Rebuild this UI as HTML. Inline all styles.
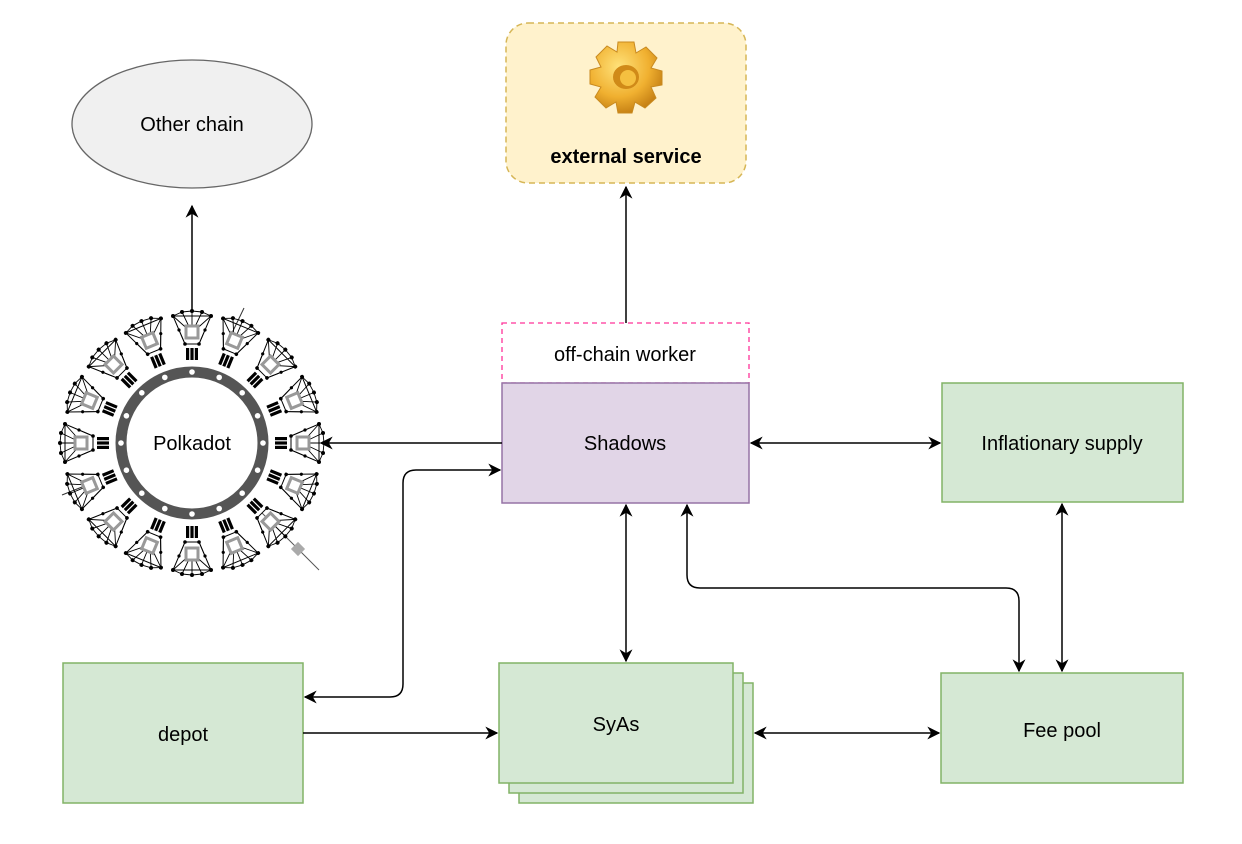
<!DOCTYPE html>
<html><head><meta charset="utf-8"><style>
html,body{margin:0;padding:0;background:#fff;}
svg{display:block;}
text{font-family:"Liberation Sans",Arial,sans-serif;font-size:20px;fill:#000;}
</style></head><body>
<svg width="1242" height="844" viewBox="0 0 1242 844" xmlns="http://www.w3.org/2000/svg">
<defs>
<marker id="a" viewBox="0 0 10 10" refX="9" refY="5" markerWidth="13" markerHeight="13" markerUnits="userSpaceOnUse" orient="auto-start-reverse">
<path d="M0,0 L10,5 L0,10 L3,5 z" fill="#000"/>
</marker>
<radialGradient id="g" cx="40%" cy="35%" r="70%">
<stop offset="0" stop-color="#ffe27a"/><stop offset="0.6" stop-color="#f0b030"/><stop offset="1" stop-color="#c07a10"/>
</radialGradient>
<g id="nd">
<rect x="-6" y="-95" width="3.2" height="12" fill="#000"/>
<rect x="-1.6" y="-95" width="3.2" height="12" fill="#000"/>
<rect x="2.8" y="-95" width="3.2" height="12" fill="#000"/>
<path d="M-7,-99 L-19,-127 L19,-127 L7,-99 z" fill="none" stroke="#000" stroke-width="1"/>
<path d="M0,-110 L-19,-127 M0,-110 L-10,-131 M0,-110 L0,-132 M0,-110 L10,-131 M0,-110 L19,-127 M-19,-127 L-10,-131 L0,-132 L10,-131 L19,-127 M-7,-99 L-13,-113 M7,-99 L13,-113" fill="none" stroke="#000" stroke-width="0.9"/>
<circle cx="-19" cy="-127" r="2"/><circle cx="-10" cy="-131" r="2"/><circle cx="0" cy="-132" r="2"/><circle cx="10" cy="-131" r="2"/><circle cx="19" cy="-127" r="2"/><circle cx="-7" cy="-99" r="1.8"/><circle cx="7" cy="-99" r="1.8"/><circle cx="-13" cy="-113" r="1.6"/><circle cx="13" cy="-113" r="1.6"/>
<rect x="-6" y="-117" width="12" height="12" fill="#fff" stroke="#999" stroke-width="3"/>
</g>
</defs>

<!-- Other chain -->
<ellipse cx="192" cy="124" rx="120" ry="64" fill="#f0f0f0" stroke="#666" stroke-width="1.3"/>
<text x="192" y="131" text-anchor="middle">Other chain</text>
<line x1="192" y1="310" x2="192" y2="206" stroke="#000" stroke-width="1.5" marker-end="url(#a)"/>

<!-- Polkadot -->
<g transform="translate(192,443)">
<line x1="40" y1="-110" x2="52" y2="-135" stroke="#333" stroke-width="1"/>
<line x1="-100" y1="40" x2="-130" y2="52" stroke="#333" stroke-width="1"/>
<line x1="70" y1="70" x2="127" y2="127" stroke="#555" stroke-width="1"/>
<rect x="101" y="101" width="10" height="10" fill="#aaa" transform="rotate(45 106 106)"/>
<use href="#nd"/><use href="#nd" transform="rotate(22.5)"/><use href="#nd" transform="rotate(45)"/><use href="#nd" transform="rotate(67.5)"/>
<use href="#nd" transform="rotate(90)"/><use href="#nd" transform="rotate(112.5)"/><use href="#nd" transform="rotate(135)"/><use href="#nd" transform="rotate(157.5)"/>
<use href="#nd" transform="rotate(180)"/><use href="#nd" transform="rotate(202.5)"/><use href="#nd" transform="rotate(225)"/><use href="#nd" transform="rotate(247.5)"/>
<use href="#nd" transform="rotate(270)"/><use href="#nd" transform="rotate(292.5)"/><use href="#nd" transform="rotate(315)"/><use href="#nd" transform="rotate(337.5)"/>
<circle r="71" fill="#fff" stroke="#555" stroke-width="11"/>
<g fill="#fff">
<circle cx="0" cy="-71" r="2.8"/><circle cx="0" cy="71" r="2.8"/><circle cx="71" cy="0" r="2.8"/><circle cx="-71" cy="0" r="2.8"/>
<circle cx="27.2" cy="-65.6" r="2.8"/><circle cx="-27.2" cy="-65.6" r="2.8"/><circle cx="27.2" cy="65.6" r="2.8"/><circle cx="-27.2" cy="65.6" r="2.8"/>
<circle cx="65.6" cy="-27.2" r="2.8"/><circle cx="-65.6" cy="-27.2" r="2.8"/><circle cx="65.6" cy="27.2" r="2.8"/><circle cx="-65.6" cy="27.2" r="2.8"/>
<circle cx="50.2" cy="-50.2" r="2.8"/><circle cx="-50.2" cy="-50.2" r="2.8"/><circle cx="50.2" cy="50.2" r="2.8"/><circle cx="-50.2" cy="50.2" r="2.8"/>
</g>
<text x="0" y="7" text-anchor="middle">Polkadot</text>
</g>

<!-- External service -->
<rect x="506" y="23" width="240" height="160" rx="22" fill="#fff2cc" stroke="#d6b656" stroke-width="1.5" stroke-dasharray="6,4"/>
<g transform="translate(626,75)">
<path d="M-8,-33 L8,-33 L10,-22 L20,-28 L31,-17 L25,-7 L36,-4 L36,10 L25,12 L30,23 L19,33 L9,27 L6,38 L-8,38 L-10,27 L-20,33 L-31,22 L-25,12 L-36,9 L-36,-5 L-25,-8 L-30,-18 L-19,-29 L-9,-23 z" fill="url(#g)" stroke="#c88a20" stroke-width="1"/>
<ellipse cx="0" cy="2" rx="13" ry="12" fill="#d08a18"/>
<ellipse cx="2" cy="3" rx="8" ry="8" fill="#f5c040"/>
</g>
<text x="626" y="163" text-anchor="middle" font-weight="bold">external service</text>
<line x1="626" y1="323" x2="626" y2="187" stroke="#000" stroke-width="1.5" marker-end="url(#a)"/>

<!-- off-chain worker + Shadows -->
<rect x="502" y="323" width="247" height="60" fill="#fff" stroke="#ff3399" stroke-width="1.3" stroke-dasharray="5,4"/>
<text x="625" y="361" text-anchor="middle">off-chain worker</text>
<rect x="502" y="383" width="247" height="120" fill="#e1d5e7" stroke="#9673a6" stroke-width="1.5"/>
<text x="625" y="450" text-anchor="middle">Shadows</text>
<line x1="502" y1="443" x2="321" y2="443" stroke="#000" stroke-width="1.5" marker-end="url(#a)"/>

<!-- Inflationary supply -->
<rect x="942" y="383" width="241" height="119" fill="#d5e8d4" stroke="#82b366" stroke-width="1.5"/>
<text x="1062" y="450" text-anchor="middle">Inflationary supply</text>
<line x1="751" y1="443" x2="940" y2="443" stroke="#000" stroke-width="1.5" marker-start="url(#a)" marker-end="url(#a)"/>

<!-- depot -->
<rect x="63" y="663" width="240" height="140" fill="#d5e8d4" stroke="#82b366" stroke-width="1.5"/>
<text x="183" y="741" text-anchor="middle">depot</text>

<!-- SyAs -->
<rect x="519" y="683" width="234" height="120" fill="#d5e8d4" stroke="#82b366" stroke-width="1.5"/>
<rect x="509" y="673" width="234" height="120" fill="#d5e8d4" stroke="#82b366" stroke-width="1.5"/>
<rect x="499" y="663" width="234" height="120" fill="#d5e8d4" stroke="#82b366" stroke-width="1.5"/>
<text x="616" y="731" text-anchor="middle">SyAs</text>

<!-- Fee pool -->
<rect x="941" y="673" width="242" height="110" fill="#d5e8d4" stroke="#82b366" stroke-width="1.5"/>
<text x="1062" y="737" text-anchor="middle">Fee pool</text>

<!-- connectors -->
<line x1="626" y1="505" x2="626" y2="661" stroke="#000" stroke-width="1.5" marker-start="url(#a)" marker-end="url(#a)"/>
<path d="M687,505 L687,575 Q687,588 700,588 L1006,588 Q1019,588 1019,601 L1019,671" fill="none" stroke="#000" stroke-width="1.5" marker-start="url(#a)" marker-end="url(#a)"/>
<line x1="1062" y1="504" x2="1062" y2="671" stroke="#000" stroke-width="1.5" marker-start="url(#a)" marker-end="url(#a)"/>
<line x1="303" y1="733" x2="497" y2="733" stroke="#000" stroke-width="1.5" marker-end="url(#a)"/>
<line x1="755" y1="733" x2="939" y2="733" stroke="#000" stroke-width="1.5" marker-start="url(#a)" marker-end="url(#a)"/>
<path d="M305,697 L390,697 Q403,697 403,684 L403,483 Q403,470 416,470 L500,470" fill="none" stroke="#000" stroke-width="1.5" marker-start="url(#a)" marker-end="url(#a)"/>
</svg>
</body></html>
